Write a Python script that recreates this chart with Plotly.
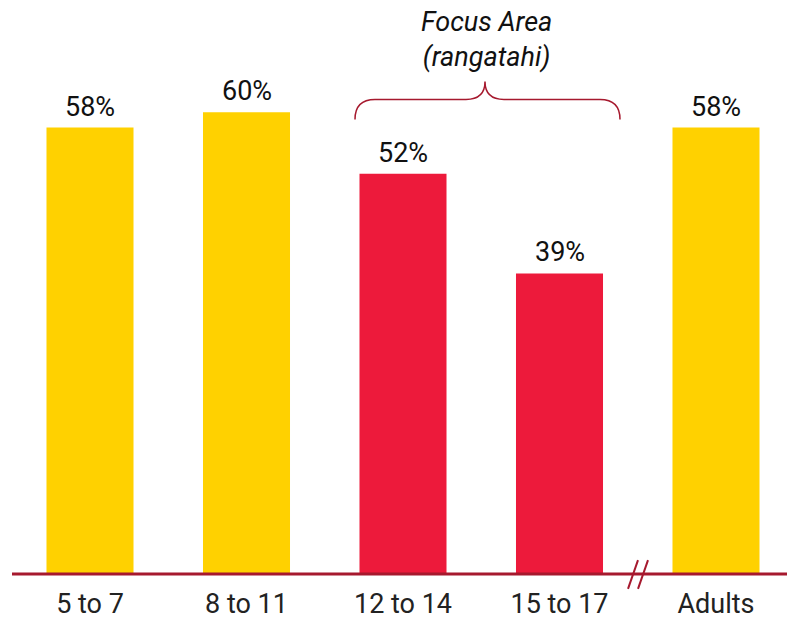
import plotly.graph_objects as go

# Share of each age group (percent)
groups = ["5 to 7", "8 to 11", "12 to 14", "15 to 17", "Adults"]
values = [58, 60, 52, 39, 58]
focus = [False, False, True, True, False]

YELLOW = "#FFD100"
RED = "#ED1A3B"
DARK_RED = "#A6192E"
W, H = 787, 620
FONT = "Roboto"

colors = [RED if f else YELLOW for f in focus]

fig = go.Figure(
    go.Bar(
        x=groups,
        y=values,
        marker=dict(color=colors, line=dict(width=0)),
        width=0.556,
        hoverinfo="skip",
    )
)

# value labels above each bar
for g, v in zip(groups, values):
    fig.add_annotation(
        x=g, y=v, text=f"{v}%", showarrow=False,
        yanchor="bottom", yshift=3,
        font=dict(family=FONT, size=27, color="#111111"),
    )


def px(x):
    return x / W


def py(y):
    # paper y for a pixel row (plot area spans rows 0..576)
    return (576 - y) / 576


# baseline axis line
fig.add_shape(type="line", xref="paper", yref="paper",
              x0=px(12), x1=1, y0=py(577), y1=py(577),
              line=dict(color=DARK_RED, width=3))

# axis break marks
for x0 in (628, 638):
    fig.add_shape(type="line", xref="paper", yref="paper",
                  x0=px(x0), x1=px(x0 + 10), y0=py(592), y1=py(563),
                  line=dict(color=DARK_RED, width=2))

# brace over the focus groups
path = (
    f"M {px(355)},{py(120)} "
    f"Q {px(355)},{py(100)} {px(375)},{py(100)} "
    f"L {px(466)},{py(100)} "
    f"Q {px(485)},{py(100)} {px(485)},{py(82)} "
    f"Q {px(485)},{py(100)} {px(504)},{py(100)} "
    f"L {px(600)},{py(100)} "
    f"Q {px(620)},{py(100)} {px(620)},{py(120)}"
)
fig.add_shape(type="path", xref="paper", yref="paper", path=path,
              line=dict(color=DARK_RED, width=1.5))

fig.add_annotation(
    xref="paper", yref="paper", x=px(487), y=py(40),
    text="<i>Focus Area</i><br><i>(rangatahi)</i>", showarrow=False,
    yanchor="middle", align="center",
    font=dict(family=FONT, size=27, color="#111111"),
)

fig.update_layout(
    width=W, height=H,
    margin=dict(l=0, r=0, t=0, b=44),
    paper_bgcolor="white", plot_bgcolor="white",
    showlegend=False,
    xaxis=dict(
        type="category", range=[-90 / 156.5, (W - 90) / 156.5],
        showline=False, showgrid=False, zeroline=False, ticks="",
        ticklabelstandoff=12,
        tickfont=dict(family=FONT, size=27, color="#222222"),
    ),
    yaxis=dict(
        range=[0, 576 / 7.72], visible=False, showgrid=False, zeroline=False,
    ),
)

fig.write_html("out.html")
